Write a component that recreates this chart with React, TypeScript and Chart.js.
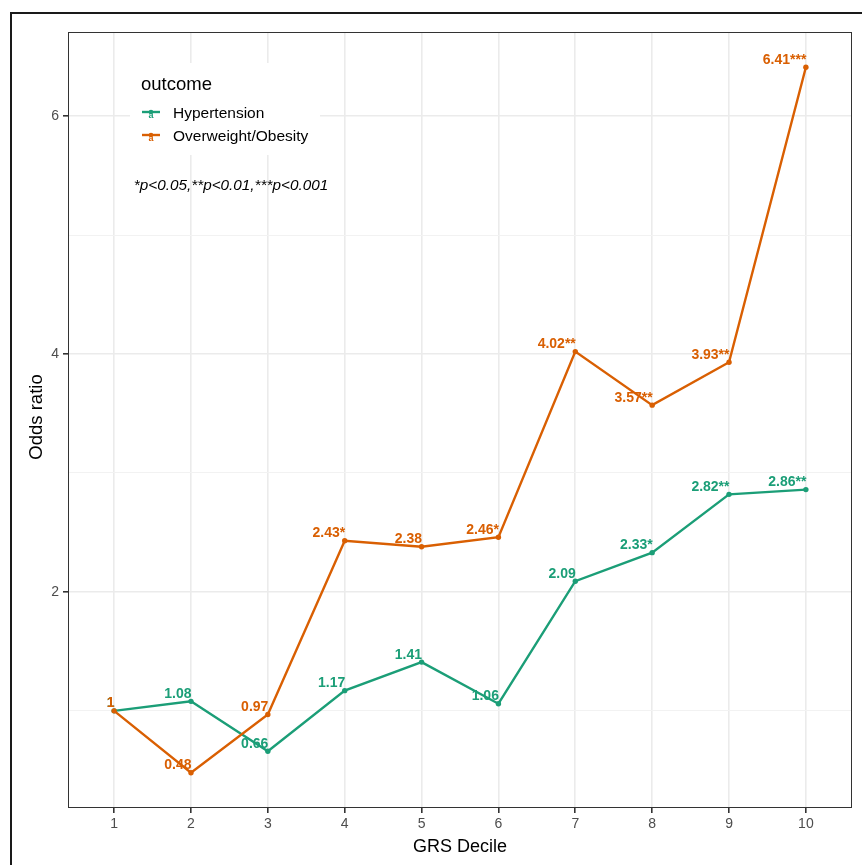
import { useEffect, useRef } from "react";
import { Chart, registerables } from "chart.js";

Chart.register(...registerables);

const deciles = [1, 2, 3, 4, 5, 6, 7, 8, 9, 10];
const hypertension = [1, 1.08, 0.66, 1.17, 1.41, 1.06, 2.09, 2.33, 2.82, 2.86];
const hypertensionStars = ["", "", "", "", "", "", "", "*", "**", "**"];
const overweight = [1, 0.48, 0.97, 2.43, 2.38, 2.46, 4.02, 3.57, 3.93, 6.41];
const overweightStars = ["", "", "", "*", "", "*", "**", "**", "**", "***"];
const yTicks = [1, 2, 3, 4, 5, 6];
const yLabelTicks = [2, 4, 6];
const seriesNames = ["Hypertension", "Overweight/Obesity"];
const seriesColors = ["#1B9E77", "#D95F02"];
const legendTitle = "outcome";
const noteText = "*p<0.05,**p<0.01,***p<0.001";
const xTitle = "GRS Decile";
const yTitle = "Odds ratio";

const FONT = '"Liberation Sans", Arial, Helvetica, sans-serif';

export default function App() {
  const canvasRef = useRef<HTMLCanvasElement | null>(null);

  useEffect(() => {
    const canvas = canvasRef.current;
    if (!canvas) return;

    const allVals = [...hypertension, ...overweight];
    const dMin = Math.min(...allVals);
    const dMax = Math.max(...allVals);
    const span = dMax - dMin;
    const yMin = dMin - 0.05 * span;
    const yMax = dMax + 0.05 * span;
    const xMin = deciles[0] - 0.6;
    const xMax = deciles[deciles.length - 1] + 0.6;

    const seriesValues = [hypertension, overweight];
    const seriesStars = [hypertensionStars, overweightStars];

    const overlay = {
      id: "overlay",
      afterDatasetsDraw(chart: any) {
        const ctx: CanvasRenderingContext2D = chart.ctx;
        const { left, right, top, bottom } = chart.chartArea;
        ctx.save();

        // data labels
        ctx.font = `bold 14px ${FONT}`;
        ctx.textAlign = "right";
        ctx.textBaseline = "alphabetic";
        seriesValues.forEach((vals, si) => {
          const meta = chart.getDatasetMeta(si);
          ctx.fillStyle = seriesColors[si];
          meta.data.forEach((pt: any, i: number) => {
            const label = String(vals[i]) + seriesStars[si][i];
            ctx.fillText(label, pt.x + 0.5, pt.y - 3.5);
          });
        });

        // panel border
        ctx.strokeStyle = "#333333";
        ctx.lineWidth = 1;
        ctx.strokeRect(left + 0.5, top + 0.5, right - left - 1, bottom - top - 1);

        // legend box
        ctx.fillStyle = "#FFFFFF";
        ctx.fillRect(130, 63, 190, 92);
        ctx.fillStyle = "#000000";
        ctx.textAlign = "left";
        ctx.font = `18.5px ${FONT}`;
        ctx.fillText(legendTitle, 141, 90);
        seriesNames.forEach((name, i) => {
          const ky = 112 + i * 23;
          ctx.strokeStyle = seriesColors[i];
          ctx.lineWidth = 2.4;
          ctx.beginPath();
          ctx.moveTo(142, ky);
          ctx.lineTo(160, ky);
          ctx.stroke();
          ctx.fillStyle = seriesColors[i];
          ctx.beginPath();
          ctx.arc(151, ky, 2.3, 0, Math.PI * 2);
          ctx.fill();
          ctx.font = `bold 9px ${FONT}`;
          ctx.textAlign = "center";
          ctx.fillText("a", 151, ky + 6);
          ctx.fillStyle = "#000000";
          ctx.textAlign = "left";
          ctx.font = `15.5px ${FONT}`;
          ctx.fillText(name, 173, ky + 6);
        });

        // note
        ctx.font = `italic 15.3px ${FONT}`;
        ctx.textAlign = "center";
        ctx.fillStyle = "#000000";
        ctx.fillText(noteText, 231, 190);

        // axis titles
        ctx.font = `18px ${FONT}`;
        ctx.fillText(xTitle, (left + right) / 2, 852);
        ctx.save();
        ctx.translate(42, (top + bottom) / 2 - 3);
        ctx.rotate(-Math.PI / 2);
        ctx.font = `18.5px ${FONT}`;
        ctx.fillText(yTitle, 0, 0);
        ctx.restore();

        // outer frame
        ctx.strokeStyle = "#1a1a1a";
        ctx.lineWidth = 2;
        ctx.beginPath();
        ctx.moveTo(11, 865);
        ctx.lineTo(11, 13);
        ctx.lineTo(862, 13);
        ctx.stroke();

        ctx.restore();
      },
    };

    const chart = new Chart(canvas, {
      type: "line",
      data: {
        datasets: seriesNames.map((name, si) => ({
          label: name,
          data: deciles.map((x, i) => ({ x, y: seriesValues[si][i] })),
          borderColor: seriesColors[si],
          backgroundColor: seriesColors[si],
          pointBackgroundColor: seriesColors[si],
          pointBorderWidth: 0,
          pointRadius: 2.7,
          borderWidth: 2.4,
          tension: 0,
          fill: false,
          order: 2 - si,
        })),
      },
      options: {
        animation: false,
        responsive: false,
        devicePixelRatio: 1,
        events: [],
        layout: { padding: { left: 0, top: 32, right: 10, bottom: 0 } },
        plugins: {
          legend: { display: false },
          tooltip: { enabled: false },
          title: { display: false },
        },
        scales: {
          x: {
            type: "linear",
            min: xMin,
            max: xMax,
            afterBuildTicks: (scale: any) => {
              scale.ticks = deciles.map((v) => ({ value: v }));
            },
            afterFit: (scale: any) => {
              scale.height = 57;
            },
            border: { display: false },
            grid: {
              color: "#EBEBEB",
              lineWidth: 1.6,
              tickColor: "#333333",
              tickLength: 5,
              drawTicks: true,
            },
            ticks: {
              color: "#4D4D4D",
              font: { family: FONT, size: 14 },
              padding: 3,
              maxRotation: 0,
              autoSkip: false,
              callback: (v: any) => String(v),
            },
          },
          y: {
            type: "linear",
            min: yMin,
            max: yMax,
            afterBuildTicks: (scale: any) => {
              scale.ticks = yTicks.map((v) => ({ value: v }));
            },
            afterFit: (scale: any) => {
              scale.width = 68;
            },
            border: { display: false },
            grid: {
              color: (c: any) => (yLabelTicks.includes(c.tick?.value) ? "#EBEBEB" : "#F2F2F2"),
              lineWidth: (c: any) => (yLabelTicks.includes(c.tick?.value) ? 1.6 : 1),
              tickColor: (c: any) => (yLabelTicks.includes(c.tick?.value) ? "#333333" : "rgba(0,0,0,0)"),
              tickLength: 5,
              drawTicks: true,
            },
            ticks: {
              color: "#4D4D4D",
              font: { family: FONT, size: 14 },
              padding: 4,
              autoSkip: false,
              callback: (v: any) => (yLabelTicks.includes(v) ? String(v) : ""),
            },
          },
        },
      },
      plugins: [overlay],
    } as any);

    return () => {
      chart.destroy();
    };
  }, []);

  return (
    <div
      style={{
        position: "fixed",
        left: 0,
        top: 0,
        width: 862,
        height: 865,
        background: "#FFFFFF",
        overflow: "hidden",
      }}
    >
      <canvas ref={canvasRef} width={862} height={865} style={{ display: "block" }} />
    </div>
  );
}
